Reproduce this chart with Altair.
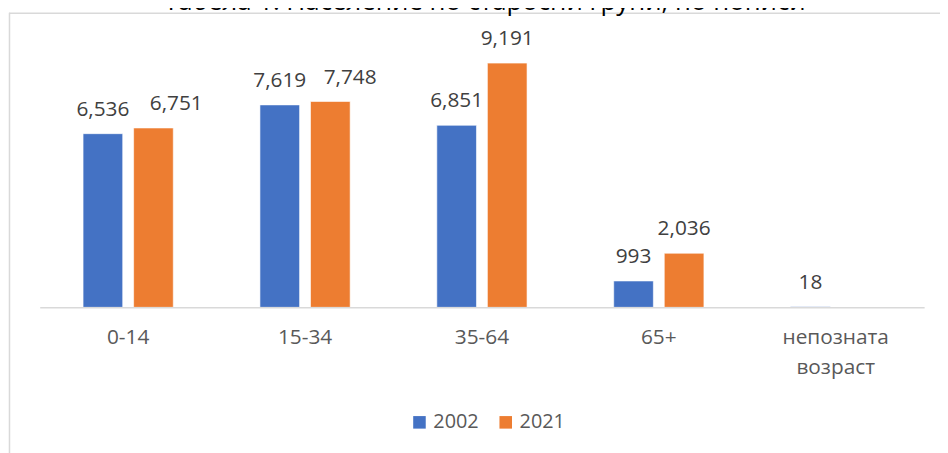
import altair as alt
import pandas as pd

categories = ["0-14", "15-34", "35-64", "65+", "непозната возраст"]
years = ["2002", "2021"]
values_2002 = [6536, 7619, 6851, 993, 18]
values_2021 = [6751, 7748, 9191, 2036, None]
title_text = "Табела 1. Население по старосни групи, по пописи"
colors = ["#4472C4", "#ED7D31"]

# layout: horizontal nudges (px) of the 2021 labels that were moved aside in the original
label_nudges = {"0-14": 23, "15-34": 20}

rows = []
for c, a, b in zip(categories, values_2002, values_2021):
    rows.append({"category": c, "year": years[0], "value": a})
    rows.append({"category": c, "year": years[1], "value": b})
df = pd.DataFrame(rows)

FONT = "Open Sans"
W, H = 892, 268

base = alt.Chart(df).encode(
    x=alt.X(
        "category:N",
        sort=categories,
        scale=alt.Scale(paddingInner=0, paddingOuter=0),
        axis=alt.Axis(
            title=None, labelAngle=0, ticks=False, grid=False,
            domainColor="#D9D9D9", domainWidth=1.5, zindex=1,
            labelFont=FONT, labelFontSize=21, labelColor="#595959",
            labelPadding=19, labelLineHeight=31,
            labelExpr="split(datum.label, ' ')",
        ),
    ),
    xOffset=alt.XOffset("year:N", sort=years,
                        scale=alt.Scale(paddingInner=0.2157, paddingOuter=0.857)),
    y=alt.Y("value:Q", scale=alt.Scale(domain=[0, 10000]), axis=None),
)

bars = base.mark_bar(stroke="white", strokeWidth=0.6).encode(
    color=alt.Color(
        "year:N",
        scale=alt.Scale(domain=years, range=colors),
        legend=alt.Legend(
            orient="none", legendX=373, legendY=374, direction="horizontal",
            title=None, symbolType="square", symbolSize=160, symbolStrokeWidth=0,
            labelFont=FONT, labelFontSize=20, labelColor="#595959",
            labelOffset=4, columnPadding=17,
        ),
    )
)

text_style = dict(baseline="alphabetic", dy=-18, font=FONT, fontSize=21, color="#404040")
txt = alt.Text("value:Q", format=",")

nudged_js = "[" + ",".join("'" + c + "'" for c in label_nudges) + "]"
plain_labels = base.transform_filter(
    f"datum.year == '{years[0]}' || indexof({nudged_js}, datum.category) < 0"
).mark_text(**text_style).encode(text=txt)

label_layers = [plain_labels]
for cat, shift in label_nudges.items():
    label_layers.append(
        base.transform_filter(
            f"datum.year == '{years[1]}' && datum.category == '{cat}'"
        ).mark_text(dx=shift, **text_style).encode(text=txt)
    )

one = alt.Data(values=[{"t": title_text}])

title = alt.Chart(one).mark_text(
    font=FONT, fontSize=26, color="#000000", baseline="alphabetic", align="center"
).encode(text="t:N", x=alt.value(449), y=alt.value(-32))

frame_top = alt.Chart(one).mark_rule(color="#D9D9D9", strokeWidth=1.5).encode(
    x=alt.value(-31), x2=alt.value(W + 40), y=alt.value(-28.5)
)
frame_left = alt.Chart(one).mark_rule(color="#D9D9D9", strokeWidth=1.5).encode(
    x=alt.value(-30.5), y=alt.value(-29), y2=alt.value(H + 160)
)

chart = alt.layer(frame_top, frame_left, title, bars, *label_layers).properties(
    width=W, height=H,
    padding={"left": 32, "top": 32, "right": 16, "bottom": 145},
    autosize=alt.AutoSizeParams(type="none"),
).configure_view(stroke="transparent")

chart.save("out.html", embed_options={"renderer": "svg", "actions": False})
